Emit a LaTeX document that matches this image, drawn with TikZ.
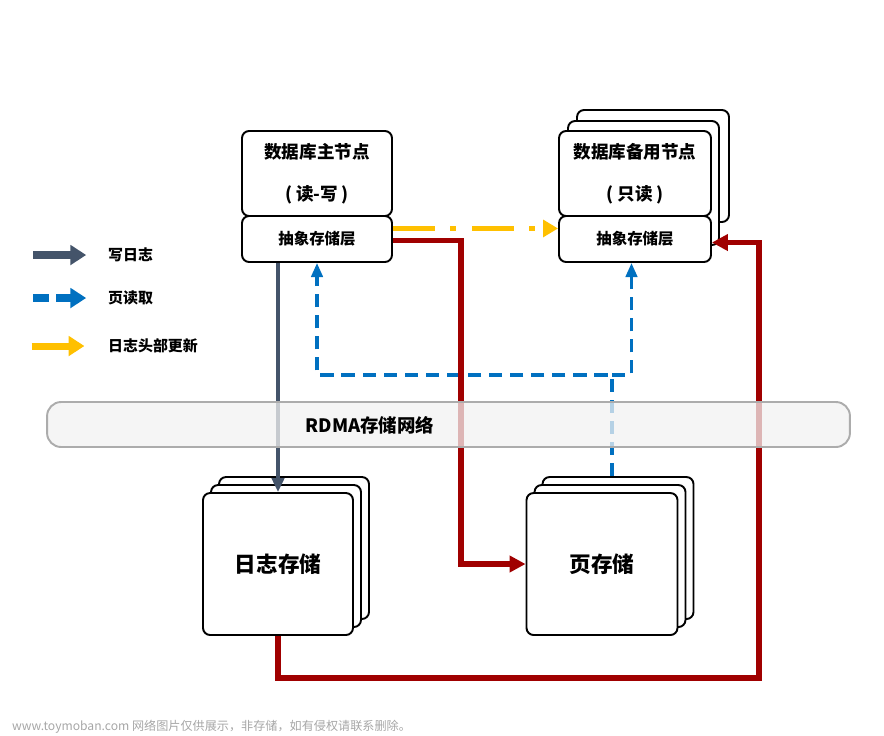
\documentclass[tikz,border=0pt]{standalone}
\usepackage{fontspec}
\setmainfont{Noto Sans CJK SC}
\usepackage{xcolor}
\definecolor{logcol}{RGB}{68,84,106}
\definecolor{readcol}{RGB}{0,112,192}
\definecolor{headcol}{RGB}{255,192,0}
\definecolor{netred}{RGB}{160,0,0}
\usepackage{tikz}
\usetikzlibrary{positioning,calc}
\usetikzlibrary{arrows.meta}
\tikzset{>={Triangle[length=8pt,width=8pt]}}
\tikzset{
  box/.style={draw,line width=1.1pt,rounded corners=4pt,fill=white,inner sep=0pt},
  titlefont/.style={font=\bfseries\fontsize{10}{12}\selectfont},
  layerfont/.style={font=\bfseries\fontsize{8.8}{10}\selectfont},
  storefont/.style={font=\bfseries\fontsize{12.3}{14}\selectfont},
  legendtext/.style={anchor=west,font=\bfseries\fontsize{8.5}{10}\selectfont},
  wlog/.style={-{Triangle[length=8pt,width=7pt]},draw=logcol,line width=2.3pt},
  pread/.style={-{Triangle[length=8pt,width=6.5pt]},draw=readcol,line width=1.8pt,dash pattern=on 7.5pt off 4.5pt},
  hupd/.style={-{Triangle[length=8.5pt,width=9.5pt]},draw=headcol,line width=2.8pt,dash pattern=on 24pt off 8.5pt on 3.5pt off 9pt},
  rline/.style={-{Triangle[length=9pt,width=9pt]},draw=netred,line width=2.9pt}
}

\begin{document}
\begin{tikzpicture}[x=0.02cm,y=-0.02cm]
  \useasboundingbox (0,0) rectangle (884,735);
  % legend
  \node[legendtext] (lgwrite) at (102,255) {写日志};
  \node[legendtext] (lgread) at (102,298) {页读取};
  \node[legendtext] (lghead) at (102,346) {日志头部更新};
  \draw[wlog,line width=4pt,-{Triangle[length=9pt,width=11pt]}] ([xshift=-39pt]lgwrite.west) -- ([xshift=-9pt]lgwrite.west);
  \draw[pread,line width=4pt,dash pattern=on 9pt off 4pt,-{Triangle[length=9pt,width=11pt]}] ([xshift=-39pt]lgread.west) -- ([xshift=-9pt]lgread.west);
  \draw[hupd,line width=4pt,solid,-{Triangle[length=9pt,width=11pt]}] ([xshift=-40pt]lghead.west) -- ([xshift=-10pt]lghead.west);

  % primary node
  \node[box,titlefont,align=center,minimum width=3cm,minimum height=1.7cm] (mainnode) at (317,173.5) {数据库主节点\\[12pt]( 读-写 )};
  \node[box,layerfont,minimum width=3cm,minimum height=0.92cm] (mainlayer) at (317,239) {抽象存储层};

  % standby nodes
  \node[box,minimum width=3.04cm,minimum height=2.24cm] (bak3) at (653,166) {};
  \node[box,minimum width=3.02cm,minimum height=2.48cm] (bak2) at (643.5,183) {};
  \node[box,titlefont,align=center,minimum width=3.04cm,minimum height=1.7cm] (baknode) at (635,173.5) {数据库备用节点\\[12pt]( 只读 )};
  \node[box,layerfont,minimum width=3.04cm,minimum height=0.92cm] (baklayer) at (635,239) {抽象存储层};

  % storage
  \node[box,minimum width=3cm,minimum height=2.84cm] (log3) at (294,548) {};
  \node[box,minimum width=3cm,minimum height=2.84cm] (log2) at (286,556) {};
  \node[box,storefont,minimum width=3cm,minimum height=2.84cm] (logstore) at (278,564) {日志存储};
  \node[box,minimum width=3.02cm,minimum height=2.84cm] (page3) at (618,548) {};
  \node[box,minimum width=3.02cm,minimum height=2.84cm] (page2) at (610,556) {};
  \node[box,storefont,minimum width=3.02cm,minimum height=2.84cm] (pagestore) at (602,564) {页存储};

  % connectors
  \coordinate (readjoin) at (612,375);
  \coordinate (redcorner) at (759,678);
  \draw[wlog] (mainlayer.south -| logstore.north) -- (logstore.north);
  \draw[pread] (page3.north -| readjoin) -- (readjoin) -| (mainlayer.south);
  \draw[pread] (readjoin) -| ([xshift=-2pt]baklayer.south);
  \draw[hupd] ([yshift=6pt]mainlayer.east) -- ([yshift=6pt]baklayer.west);
  \draw[rline] ([yshift=-1pt]mainlayer.east) -- ++(68,0) |- (pagestore.west);
  \draw[rline] (logstore.south) |- (redcorner) |- ([yshift=-2pt]baklayer.east);

  % network band
  \node[draw=gray!65,line width=1.1pt,fill=gray!10,fill opacity=0.75,rounded corners=8pt,minimum width=16.06cm,minimum height=0.9cm] (rdma) at (448.5,424.5) {};
  \node[font=\bfseries\fontsize{10.5}{12}\selectfont] (rdmalabel) at (370,425) {RDMA存储网络};

  \node[anchor=west,text=gray!70,font=\fontsize{6.9}{8}\selectfont] (wmark) at (6,727) {www.toymoban.com 网络图片仅供展示，非存储，如有侵权请联系删除。};
\end{tikzpicture}
\end{document}
